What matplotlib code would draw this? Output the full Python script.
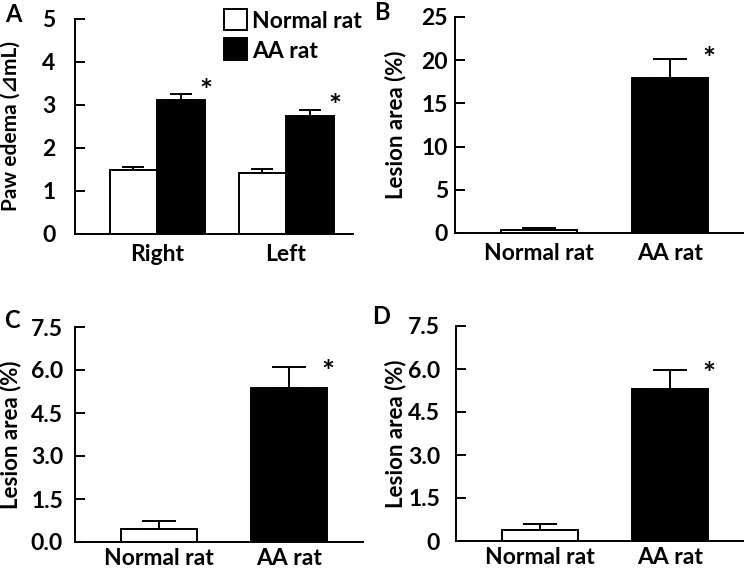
import matplotlib
matplotlib.use("Agg")
import matplotlib.pyplot as plt
from matplotlib.patches import Rectangle
from matplotlib.transforms import blended_transform_factory

# ---- data ----
paw_groups = ["Right", "Left"]
paw_normal = [1.49, 1.43]
paw_normal_err = [0.07, 0.08]
paw_aa = [3.12, 2.75]
paw_aa_err = [0.13, 0.14]

lesion_groups = ["Normal rat", "AA rat"]
lesion_b = [0.38, 17.95]
lesion_b_err = [0.22, 2.2]
lesion_c = [0.46, 5.38]
lesion_c_err = [0.29, 0.71]
lesion_d = [0.37, 5.31]
lesion_d_err = [0.24, 0.66]

W, H = 744, 570
LW = 1.4
FS = 16.5
plt.rcParams.update({
    "font.family": ["Lato", "DejaVu Sans"],
    "font.size": FS,
    "font.weight": "bold",
    "axes.linewidth": LW,
    "ytick.major.width": LW, "ytick.major.size": 7, "ytick.direction": "in",
    "ytick.labelsize": FS, "xtick.labelsize": FS, "axes.labelsize": 16,
    "axes.labelweight": "bold",
})

fig = plt.figure(figsize=(W / 100, H / 100), dpi=100)


def px_axes(left, right, top, bottom):
    return fig.add_axes([left / W, 1 - bottom / H, (right - left) / W, (bottom - top) / H])


def style(ax, ylim, yticks, yticklabels, ylabel, ypad, label_x, xpad=7, label_fs=16):
    ax.spines["top"].set_visible(False)
    ax.spines["right"].set_visible(False)
    ax.set_ylim(*ylim)
    ax.set_yticks(yticks, yticklabels)
    ax.tick_params(axis="x", length=0, pad=xpad)
    ax.tick_params(axis="y", pad=ypad)
    ax.set_ylabel(ylabel, fontsize=label_fs)
    ax.yaxis.set_label_coords(label_x / W, 0.5)
    ax.yaxis.label.set_transform(blended_transform_factory(fig.transFigure, ax.transAxes))


def bar_with_err(ax, x, h, err, color, width, cap):
    ax.bar(x, h, width=width, color=color, edgecolor="black", linewidth=LW, zorder=2)
    ax.errorbar(x, h, yerr=[[0] * len(h), err], fmt="none", ecolor="black",
                elinewidth=LW, capsize=cap, capthick=LW, zorder=1)


def stars(ax, xs, tops, dy):
    for x, t in zip(xs, tops):
        ax.annotate("*", (x, t), xytext=(1, dy), textcoords="offset points",
                    ha="center", va="baseline", fontsize=22)


# ---- A ----
ax = px_axes(75, 353, 19, 234)
w = 0.368
xs = [0, 1]
bar_with_err(ax, [x - w / 2 for x in xs], paw_normal, paw_normal_err, "white", w, 7.8)
bar_with_err(ax, [x + w / 2 for x in xs], paw_aa, paw_aa_err, "black", w, 7.8)
ax.set_xlim(-0.636, 1.519)
ax.set_xticks(xs, paw_groups)
style(ax, (0, 5), range(6), [str(v) for v in range(6)], "Paw edema (⊿mL)", 14, 21,
      label_fs=15)
stars(ax, [x + w for x in xs], [a + e for a, e in zip(paw_aa, paw_aa_err)], -4.7)

# legend drawn in pixel positions
for (top, bot), color, lab in [((9, 30), "white", "Normal rat"), ((38, 60), "black", "AA rat")]:
    fig.patches.append(Rectangle((224 / W, 1 - bot / H), 23 / W, (bot - top) / H,
                                 transform=fig.transFigure, facecolor=color,
                                 edgecolor="black", linewidth=LW))
    fig.text(252 / W, 1 - (top + bot) / 2 / H, lab, ha="left", va="center_baseline")


def lesion_panel(left, right, top, bottom, vals, errs, ylim, yticks, yticklabels,
                 dy, ypad, label_x, xpad=7):
    ax = px_axes(left, right, top, bottom)
    w = 0.585
    xs = [0, 1]
    bar_with_err(ax, [xs[0]], [vals[0]], [errs[0]], "white", w, 11.9)
    bar_with_err(ax, [xs[1]], [vals[1]], [errs[1]], "black", w, 11.9)
    ax.set_xlim(-0.646, 1.57)
    ax.set_xticks(xs, lesion_groups)
    style(ax, ylim, yticks, yticklabels, "Lesion area (%)", ypad, label_x, xpad)
    stars(ax, [xs[1] + w / 2], [vals[1] + errs[1]], dy)
    return ax


lesion_panel(455, 744, 17, 233, lesion_b, lesion_b_err, (0, 25),
             range(0, 26, 5), [str(v) for v in range(0, 26, 5)], -7.6, 5, 406)
lesion_panel(75, 363, 327, 542, lesion_c, lesion_c_err, (0, 7.5),
             [0, 1.5, 3, 4.5, 6, 7.5], ["0.0", "1.5", "3.0", "4.5", "6.0", "7.5"],
             -10.4, 8.6, 21, xpad=4)
lesion_panel(456, 744, 326, 541, lesion_d, lesion_d_err, (0, 7.5),
             [0, 1.5, 3, 4.5, 6, 7.5], ["0", "1.5", "3.0", "4.5", "6.0", "7.5"],
             -10.4, 11.5, 406, xpad=4)

for lab, x, y in [("A", 13, 14), ("B", 382, 13), ("C", 12, 320), ("D", 381, 317)]:
    fig.text(x / W, 1 - y / H, lab, ha="center", va="center", fontsize=17)

fig.savefig("out.png", dpi=100)
